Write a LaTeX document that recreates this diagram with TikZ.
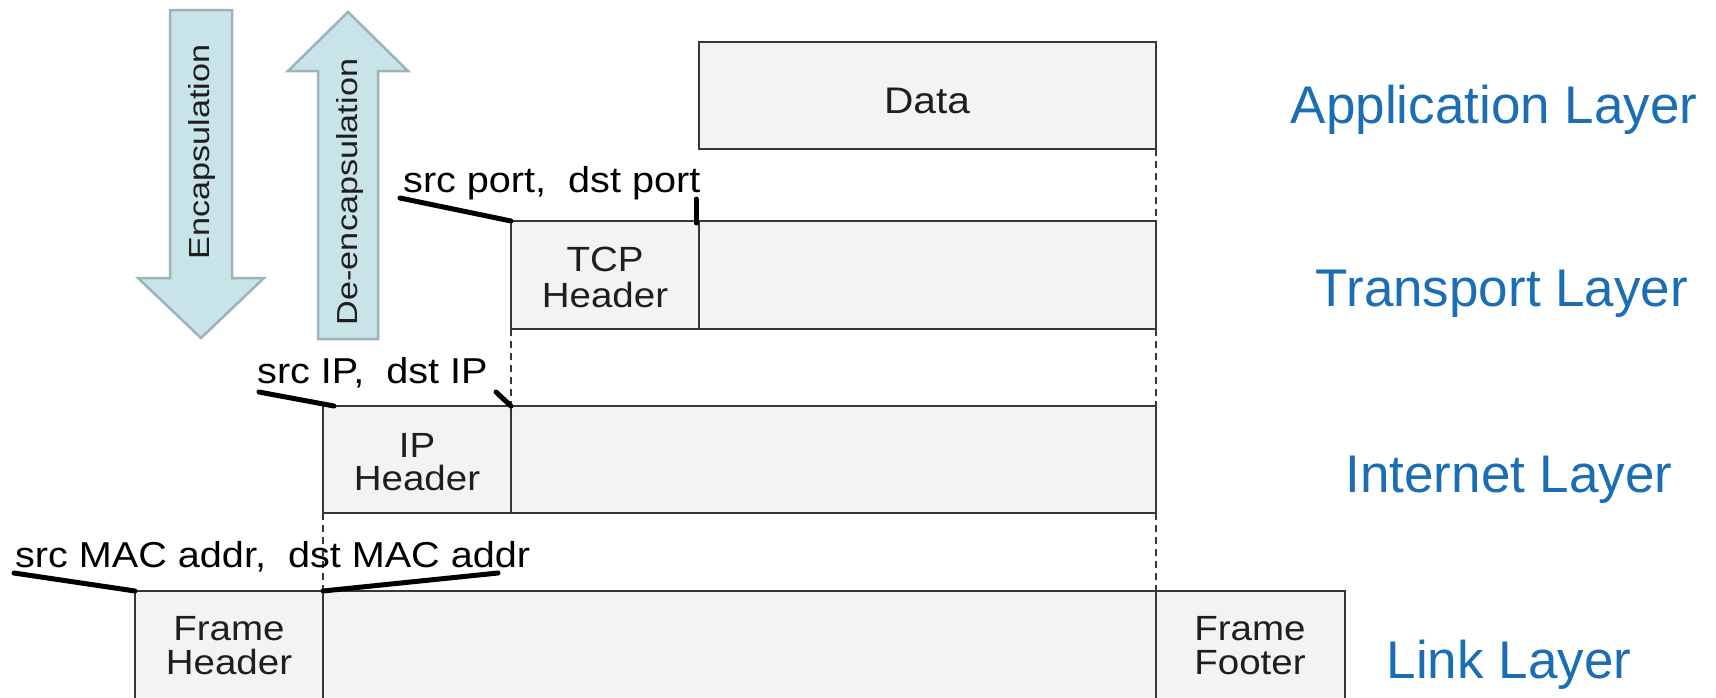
\documentclass[tikz,border=0pt]{standalone}
\usepackage{fontspec}
\setmainfont{Liberation Sans}
\newfontfamily\stretchfont[FakeStretch=1.1]{Liberation Sans}
\newfontfamily\arrowfont[FakeStretch=1.18]{Liberation Sans}
\definecolor{boxline}{RGB}{55,55,55}
\definecolor{boxfill}{RGB}{243,243,243}
\definecolor{textgray}{RGB}{30,30,30}
\definecolor{layerblue}{RGB}{28,110,180}
\definecolor{arrowfill}{RGB}{200,228,232}
\definecolor{arrowline}{RGB}{155,180,185}
\tikzset{
  pkt/.style={draw=boxline, fill=boxfill, line width=2pt, rectangle, outer sep=0pt, inner sep=0pt, anchor=north west},
  gap/.style={draw=boxline, dash pattern=on 7pt off 5pt, line width=2pt},
  ann/.style={line width=5pt, line cap=round, black},
  boxtxt/.style={font=\stretchfont\fontsize{35}{35}\selectfont, text=textgray, inner sep=0pt, anchor=base},
  lbl/.style={font=\stretchfont\fontsize{36}{36}\selectfont, text=black, inner sep=0pt, anchor=base west},
  layer/.style={font=\fontsize{53}{53}\selectfont, text=layerblue, inner sep=0pt, anchor=base},
  bigarrow/.style={fill=arrowfill, draw=arrowline, line width=2.5pt, line join=miter},
  arrtxt/.style={font=\arrowfont\fontsize{29}{29}\selectfont, text=textgray, inner sep=0pt, anchor=base, rotate=90},
}
\begin{document}
\begin{tikzpicture}[x=1pt,y=-1pt]
\fill[white] (0,0) rectangle (1716,697);
\useasboundingbox (0,0) rectangle (1716,697);

% big arrows
\draw[bigarrow] (170,10) -- (232,10) -- (232,278) -- (264,278) -- (201,338) -- (138,278) -- (170,278) -- cycle;
\draw[bigarrow] (348,12) -- (408,71) -- (378,71) -- (378,339) -- (318,339) -- (318,71) -- (288,71) -- cycle;
\node[arrtxt] (enc) at (209,152) {Encapsulation};
\node[arrtxt] (dec) at (357,192) {De-encapsulation};

% packet boxes
\node[pkt, minimum width=457pt, minimum height=107pt] (data) at (699,42) {};
\node[pkt, minimum width=188pt, minimum height=108pt] (tcph) at (511,221) {};
\node[pkt, minimum width=457pt, minimum height=108pt] (tcpp) at (699,221) {};
\node[pkt, minimum width=188pt, minimum height=107pt] (iph) at (323,406) {};
\node[pkt, minimum width=645pt, minimum height=107pt] (ipp) at (511,406) {};
\node[pkt, minimum width=188pt, minimum height=112pt] (frh) at (135,591) {};
\node[pkt, minimum width=833pt, minimum height=112pt] (frp) at (323,591) {};
\node[pkt, minimum width=189pt, minimum height=112pt] (frf) at (1156,591) {};

% box texts
\node[boxtxt, font=\stretchfont\fontsize{37}{37}\selectfont] (tdata) at (927,113) {Data};
\node[boxtxt] (ttcp1) at (605,271) {TCP};
\node[boxtxt] (ttcp2) at (605,307) {Header};
\node[boxtxt] (tip1) at (417,457) {IP};
\node[boxtxt] (tip2) at (417,490) {Header};
\node[boxtxt] (tfh1) at (229,640) {Frame};
\node[boxtxt] (tfh2) at (229,674) {Header};
\node[boxtxt] (tff1) at (1250,640) {Frame};
\node[boxtxt] (tff2) at (1250,674) {Footer};

% dashed guides
\draw[gap] (data.south east) -- (tcpp.north east);
\draw[gap] (tcpp.south east) -- (ipp.north east);
\draw[gap] (ipp.south east) -- (frp.north east);
\draw[gap] (tcph.south west) -- (iph.north east);
\draw[gap] (iph.south west) -- (frp.north west);

% annotations
\node[lbl] (lport) at (403,192) {src port,~ dst port};
\node[lbl] (lip) at (257,383) {src IP,~ dst IP};
\node[lbl] (lmac) at (15,567) {src MAC addr,~ dst MAC addr};

\coordinate (pa) at (400,198);
\coordinate (pb) at (696,199);
\coordinate (ia) at (259,392);
\coordinate (ib) at (496,392);
\coordinate (ma) at (14,573);
\coordinate (mb) at (498,573);
\draw[ann] (pa) -- (tcph.north west);
\draw[ann] (pb) -- ([xshift=-3pt,yshift=-2pt]tcph.north east);
\draw[ann] (ia) -- ([xshift=11pt]iph.north west);
\draw[ann] (ib) -- (iph.north east);
\draw[ann] (ma) -- (frh.north west);
\draw[ann] (mb) -- (frp.north west);

% layer labels
\node[layer] (lapp) at (1494,123) {Application Layer};
\node[layer] (ltra) at (1502,306) {Transport Layer};
\node[layer] (lint) at (1509,492) {Internet Layer};
\node[layer] (llnk) at (1509,678) {Link Layer};
\end{tikzpicture}
\end{document}
